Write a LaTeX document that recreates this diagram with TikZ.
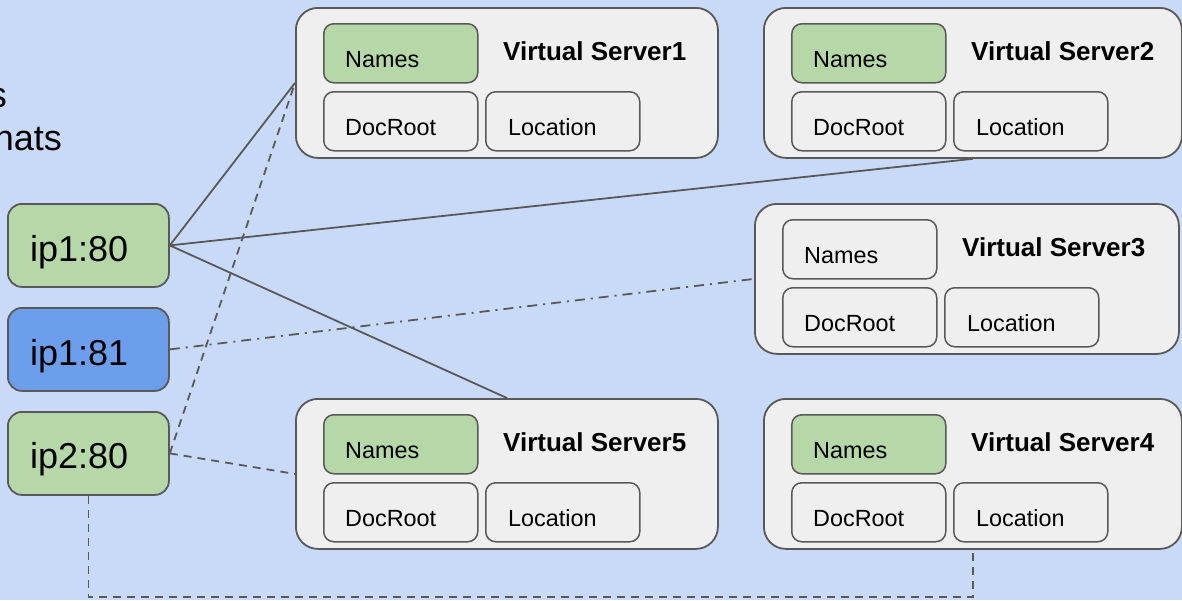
\documentclass[tikz,border=0pt]{standalone}
\usepackage{fontspec}
\setmainfont{Liberation Sans}
\definecolor{bg}{HTML}{C9DAF8}
\definecolor{boxfill}{HTML}{EFEFEF}
\definecolor{namegreen}{HTML}{B6D7A8}
\definecolor{ipblue}{HTML}{6D9EEB}
\definecolor{edge}{HTML}{595959}
\tikzset{
 vsbox/.style={draw=edge, line width=1.8pt, fill=boxfill, rounded corners=22pt, inner sep=0pt, anchor=north west},
 subbox/.style={draw=edge, line width=1.5pt, rounded corners=10pt, inner sep=0pt, minimum width=154pt, minimum height=59pt, anchor=north west},
 ipbox/.style={draw=edge, line width=1.8pt, rounded corners=14pt, inner sep=0pt, minimum width=161pt, minimum height=83pt, anchor=north west},
 lbl/.style={inner sep=0pt, anchor=base west, font=\fontsize{23.4}{28}\selectfont},
 ttl/.style={inner sep=0pt, anchor=base west, font=\bfseries\fontsize{26}{30}\selectfont},
 iplbl/.style={inner sep=0pt, anchor=base west, font=\fontsize{36}{43}\selectfont},
 sidelbl/.style={inner sep=0pt, anchor=base east, font=\fontsize{36}{43}\selectfont},
 conn/.style={draw=edge, line width=1.8pt},
 dashconn/.style={conn, dash pattern=on 8pt off 6pt},
 dotdashconn/.style={conn, dash pattern=on 10pt off 6pt on 2pt off 6pt},
}
\newcommand\vserver[6]{%
 \node[vsbox, minimum width=#4pt, minimum height=150pt] (#1) at (#2,#3) {};
 \node[subbox, fill=#6] (#1n) at ({#2+28},{#3+16}) {};
 \node[subbox, fill=boxfill] (#1d) at ({#2+28},{#3+84}) {};
 \node[subbox, fill=boxfill] (#1l) at ({#2+190},{#3+84}) {};
 \node[lbl] (#1nt) at ({#2+50},{#3+60}) {Names};
 \node[lbl] (#1dt) at ({#2+50},{#3+128}) {DocRoot};
 \node[lbl] (#1lt) at ({#2+213},{#3+128}) {Location};
 \node[ttl] (#1t) at ({#2+208},{#3+53}) {Virtual Server#5};
}
\begin{document}
\begin{tikzpicture}[x=1pt, y=-1pt]
\fill[bg] (0,0) rectangle (1182,600);
\useasboundingbox (0,0) rectangle (1182,600);

\node[sidelbl] (side1) at (7,107) {s};
\node[sidelbl] (side2) at (62,150) {nats};

\vserver{vs1}{295}{7}{422}{1}{namegreen}
\vserver{vs2}{763}{7}{418}{2}{namegreen}
\vserver{vs3}{754}{203}{424}{3}{boxfill}
\vserver{vs4}{763}{398}{418}{4}{namegreen}
\vserver{vs5}{295}{398}{422}{5}{namegreen}

\node[ipbox, fill=namegreen] (ip180) at (7,203) {};
\node[ipbox, fill=ipblue] (ip181) at (7,307) {};
\node[ipbox, fill=namegreen] (ip280) at (7,411) {};
\node[iplbl] (ip180t) at (30,261) {ip1:80};
\node[iplbl] (ip181t) at (30,365) {ip1:81};
\node[iplbl] (ip280t) at (30,468) {ip2:80};

\draw[conn] (ip180.east) -- (vs1.west);
\draw[conn] (ip180.east) -- (vs2.south);
\draw[conn] (ip180.east) -- (vs5.north);
\draw[dotdashconn] (ip181.east) -- (vs3.west);
\draw[dashconn] (ip280.east) -- (vs1.west);
\draw[dashconn] (ip280.east) -- (vs5.west);
\coordinate (bend) at (500,597);
\draw[dashconn] (ip280.south) |- (bend) -| (vs4.south);
\end{tikzpicture}
\end{document}
